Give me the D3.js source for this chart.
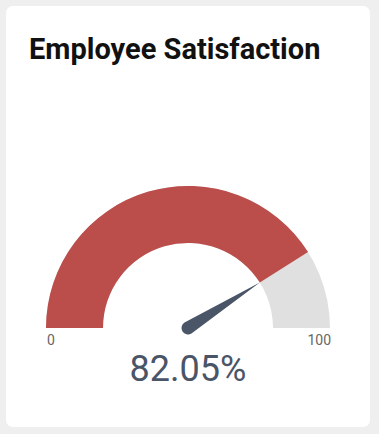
<!DOCTYPE html>
<html lang="en">
  <head>
    <meta charset="UTF-8" />
    <title>Employee Satisfaction</title>
    <script src="https://cdn.jsdelivr.net/npm/d3@7"></script>
    <style>
      body {
        margin: 0;
        background: #efefef;
        font-family: Roboto, sans-serif;
      }
    </style>
  </head>
  <body>
    <script>
      const width = 379;
      const height = 434;

      // gauge data
      const gaugeMin = [0];
      const gaugeMax = [100];
      const gaugeValue = [82.05];
      const tickLabels = ["0", "100"];

      const cx = 188;
      const cy = 328;
      const outerR = 142;
      const innerR = 85;

      const svg = d3
        .select("body")
        .append("svg")
        .attr("width", width)
        .attr("height", height);

      // card
      svg
        .append("rect")
        .attr("x", 6)
        .attr("y", 6)
        .attr("width", 364)
        .attr("height", 421)
        .attr("rx", 7)
        .attr("fill", "#fff");

      svg
        .append("text")
        .attr("x", 29)
        .attr("y", 59)
        .attr("font-size", 29)
        .attr("font-weight", "bold")
        .attr("fill", "#111")
        .text("Employee Satisfaction");

      const angle = d3
        .scaleLinear()
        .domain([gaugeMin[0], gaugeMax[0]])
        .range([-Math.PI / 2, Math.PI / 2]);

      const arc = d3.arc().innerRadius(innerR).outerRadius(outerR);

      const g = svg.append("g").attr("transform", `translate(${cx},${cy})`);

      // background band
      g.append("path")
        .attr(
          "d",
          arc({ startAngle: angle(gaugeMin[0]), endAngle: angle(gaugeMax[0]) })
        )
        .attr("fill", "#e0e0e0");

      // value band
      g.append("path")
        .attr(
          "d",
          arc({ startAngle: angle(gaugeMin[0]), endAngle: angle(gaugeValue[0]) })
        )
        .attr("fill", "#bb4d4b");

      // needle
      const a = angle(gaugeValue[0]);
      const tipX = innerR * Math.sin(a);
      const tipY = -innerR * Math.cos(a);
      const baseR = 6.5;
      const px = Math.cos(a) * baseR;
      const py = Math.sin(a) * baseR;
      const needle = d3.path();
      needle.moveTo(px, py);
      needle.lineTo(tipX, tipY);
      needle.lineTo(-px, -py);
      needle.arc(0, 0, baseR, Math.atan2(-py, -px), Math.atan2(py, px), true);
      needle.closePath();
      g.append("path").attr("d", needle.toString()).attr("fill", "#4a5568");

      // tick labels
      svg
        .append("text")
        .attr("x", cx - outerR + 1)
        .attr("y", cy + 17)
        .attr("font-size", 14)
        .attr("fill", "#666")
        .text(tickLabels[0]);

      svg
        .append("text")
        .attr("x", cx + outerR + 1)
        .attr("y", cy + 17)
        .attr("text-anchor", "end")
        .attr("font-size", 14)
        .attr("fill", "#666")
        .text(tickLabels[1]);

      svg
        .append("text")
        .attr("x", cx)
        .attr("y", cy + 53)
        .attr("text-anchor", "middle")
        .attr("font-size", 36)
        .attr("fill", "#4a5568")
        .text(d3.format(".2f")(gaugeValue[0]) + "%");
    </script>
  </body>
</html>
